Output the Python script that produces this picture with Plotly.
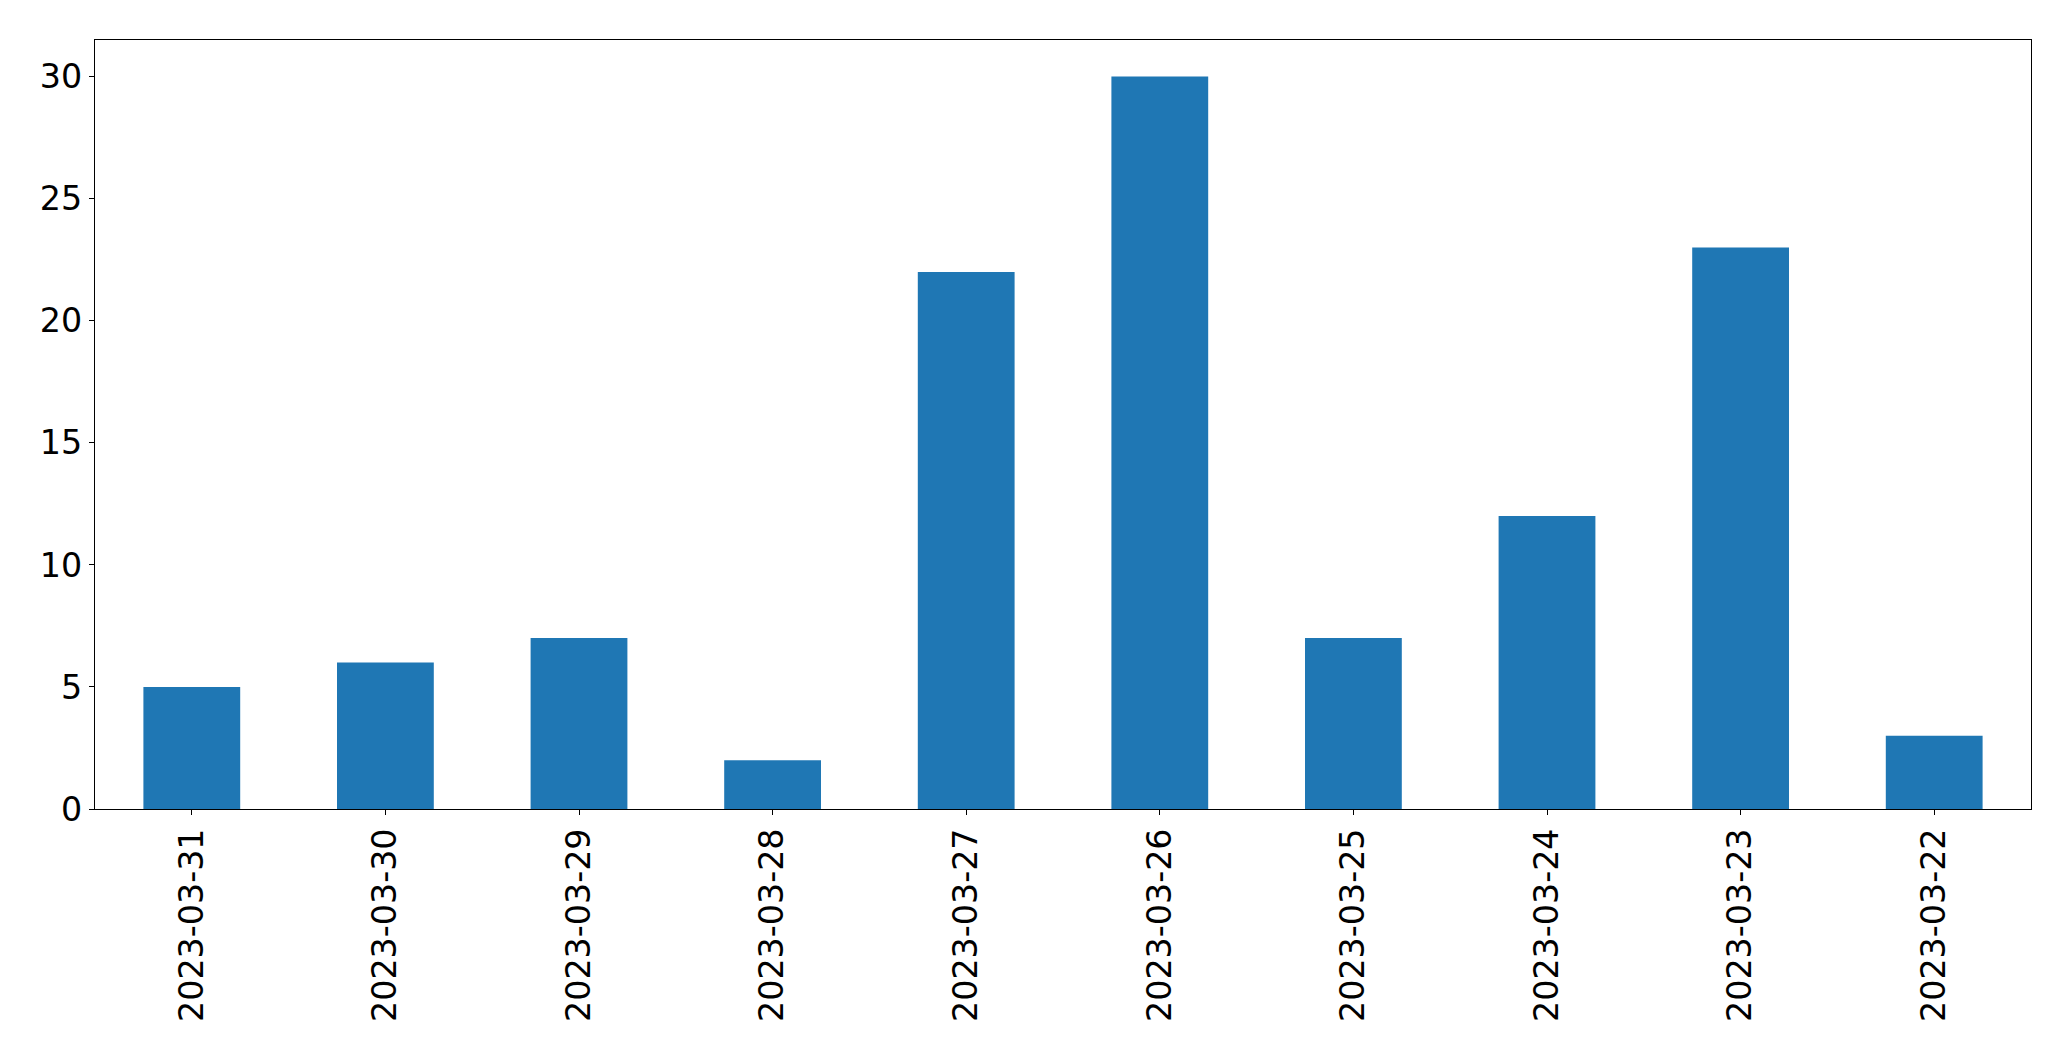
import plotly.graph_objects as go

dates = ["2023-03-31", "2023-03-30", "2023-03-29", "2023-03-28", "2023-03-27",
         "2023-03-26", "2023-03-25", "2023-03-24", "2023-03-23", "2023-03-22"]
counts = [5, 6, 7, 2, 22, 30, 7, 12, 23, 3]
y_ticks = [0, 5, 10, 15, 20, 25, 30]

fig = go.Figure(go.Bar(x=dates, y=counts, width=0.5, marker=dict(color="#1f77b4", line=dict(width=0))))

fig.update_layout(
    width=2071, height=1061,
    margin=dict(l=94.5, r=39.5, t=39.5, b=251.7, autoexpand=False),
    paper_bgcolor="white", plot_bgcolor="white",
    font=dict(family="DejaVu Sans", size=33.3, color="black"),
    showlegend=False,
)
fig.update_xaxes(type="category", range=[-0.5, 9.5], tickangle=-90,
                 showline=True, linecolor="black", linewidth=1.3, mirror=True,
                 ticks="outside", ticklen=5, tickwidth=1.3, tickcolor="black",
                 showgrid=False, zeroline=False, ticklabelstandoff=0)
fig.update_yaxes(range=[0, 31.5], tickvals=y_ticks,
                 showline=True, linecolor="black", linewidth=1.3, mirror=True,
                 ticks="outside", ticklen=5, tickwidth=1.3, tickcolor="black",
                 showgrid=False, zeroline=False)

fig.write_html("out.html")
